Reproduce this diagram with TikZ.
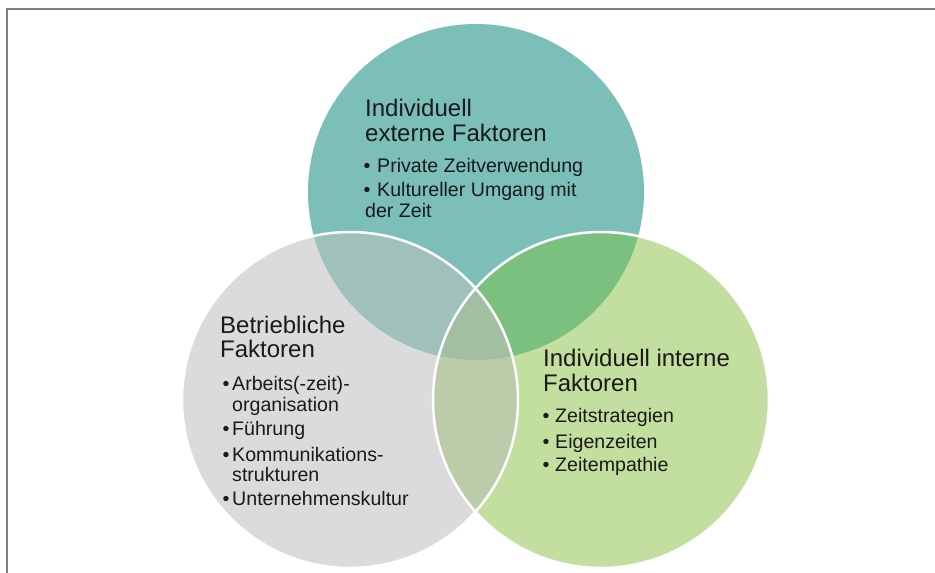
\documentclass[tikz,border=0pt]{standalone}
\usepackage{fontspec}
\setmainfont{Liberation Sans}
\definecolor{tealfill}{RGB}{123,191,184}
\definecolor{grayfill}{RGB}{219,219,219}
\definecolor{greenfill}{RGB}{195,223,159}
\definecolor{tealgray}{RGB}{160,192,188}
\definecolor{tealgreen}{RGB}{124,192,127}
\definecolor{graygreen}{RGB}{188,203,170}
\definecolor{allthree}{RGB}{163,191,163}
\definecolor{txt}{RGB}{26,26,26}
\definecolor{framegray}{RGB}{128,128,128}
\begin{document}
\begin{tikzpicture}[x=1pt,y=-1pt,
  heading/.style={anchor=base west, inner sep=0pt, font=\fontsize{24}{28}\selectfont, text=txt},
  entry/.style={anchor=base west, inner sep=0pt, font=\fontsize{19.6}{23}\selectfont, text=txt},
  bulletmark/.style={anchor=base, inner sep=0pt, font=\fontsize{19.6}{23}\selectfont, text=txt},
  ring/.style={draw=white, line width=2.5pt},
  frameline/.style={draw=framegray, line width=2pt}]

\useasboundingbox (0,0) rectangle (935,573);
\fill[white] (0,0) rectangle (935,573);

% circle centres
\coordinate (T) at (476,192);
\coordinate (G) at (350,400);
\coordinate (R) at (601,400);
\def\rad{168pt}

% outer frame (top and left edges)
\draw[frameline] (7,573) -- (7,9) -- (935,9);

% single circles
\fill[tealfill]  (T) circle[radius=\rad];
\fill[grayfill]  (G) circle[radius=\rad];
\fill[greenfill] (R) circle[radius=\rad];

% pairwise overlaps
\begin{scope}
  \clip (T) circle[radius=\rad];
  \fill[tealgray] (G) circle[radius=\rad];
  \fill[tealgreen] (R) circle[radius=\rad];
\end{scope}
\begin{scope}
  \clip (G) circle[radius=\rad];
  \fill[graygreen] (R) circle[radius=\rad];
\end{scope}
% centre of all three
\begin{scope}
  \clip (T) circle[radius=\rad];
  \clip (G) circle[radius=\rad];
  \fill[allthree] (R) circle[radius=\rad];
\end{scope}

% white outlines of the two lower circles
\draw[ring] (G) circle[radius=\rad];
\draw[ring] (R) circle[radius=\rad];

% top circle text
\node[heading] (t1) at (365,116.7) {Individuell};
\node[heading] (t2) at (365,141.7) {externe Faktoren};
\node[bulletmark] (tb1) at (367,172.7) {•};
\node[entry] (ti1) at (377,172.7) {Private Zeitverwendung};
\node[bulletmark] (tb2) at (367,196) {•};
\node[entry] (ti2) at (377,196) {Kultureller Umgang mit};
\node[entry] (ti3) at (365,217.7) {der Zeit};

% left circle text
\node[heading] (l1) at (220,333.3) {Betriebliche};
\node[heading] (l2) at (220,357.3) {Faktoren};
\node[bulletmark] (lb1) at (226,390.7) {•};
\node[entry] (li1) at (232,390.7) {Arbeits(-zeit)-};
\node[entry] (li2) at (232,411.7) {organisation};
\node[bulletmark] (lb2) at (226,435) {•};
\node[entry] (li3) at (232,435) {Führung};
\node[bulletmark] (lb3) at (226,461.7) {•};
\node[entry] (li4) at (232,461.7) {Kommunikations-};
\node[entry] (li5) at (232,481.7) {strukturen};
\node[bulletmark] (lb4) at (226,505) {•};
\node[entry] (li6) at (232,505) {Unternehmenskultur};

% right circle text
\node[heading] (r1) at (543,366.7) {Individuell interne};
\node[heading] (r2) at (543,391.7) {Faktoren};
\node[bulletmark] (rb1) at (546,422.7) {•};
\node[entry] (ri1) at (555,422.7) {Zeitstrategien};
\node[bulletmark] (rb2) at (546,448.3) {•};
\node[entry] (ri2) at (555,448.3) {Eigenzeiten};
\node[bulletmark] (rb3) at (546,471.7) {•};
\node[entry] (ri3) at (555,471.7) {Zeitempathie};
\end{tikzpicture}
\end{document}
